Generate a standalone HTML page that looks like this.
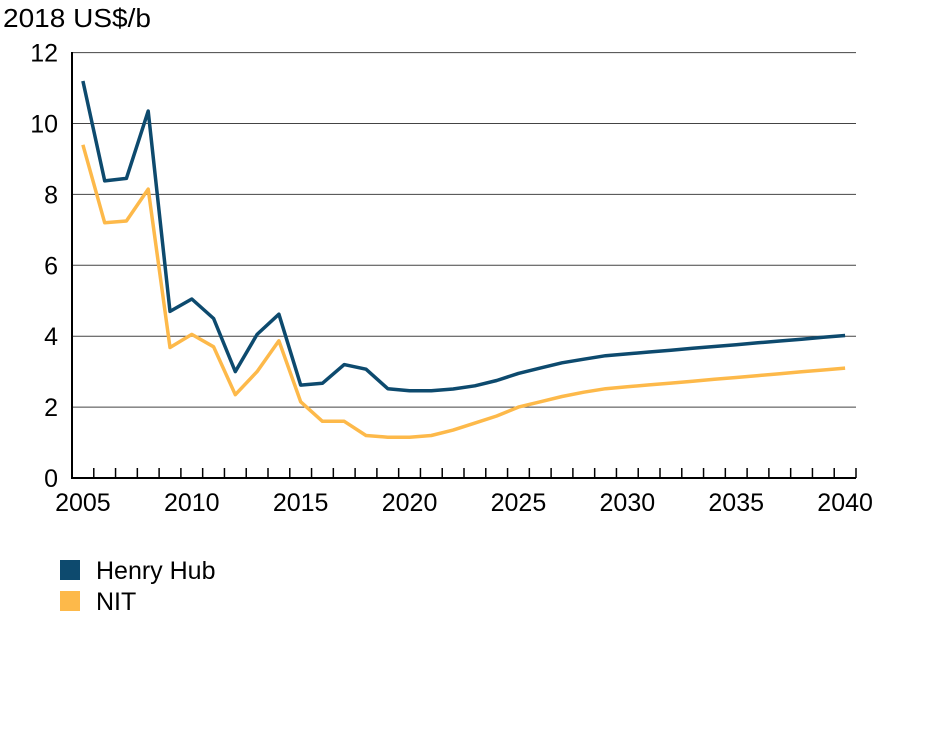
<!DOCTYPE html>
<html><head><meta charset="utf-8"><style>
body{margin:0;background:#fff;width:950px;height:730px;overflow:hidden}
text{font-family:"Liberation Sans",Arial,sans-serif;fill:#000}
</style></head><body>
<svg id="s" width="950" height="730" xmlns="http://www.w3.org/2000/svg"></svg>
<script>
const s=document.getElementById('s');
const X0=72,X1=856,Y0=478,U=35.45,n=36,W=(X1-X0)/n;
let h='';
h+='<text x="3" y="27" font-size="26" textLength="148" lengthAdjust="spacingAndGlyphs">2018 US$/b</text>';
for(let v=0;v<=12;v+=2){const y=Y0-v*U;
 if(v>0)h+=`<line x1="${X0}" x2="${X1}" y1="${y}" y2="${y}" stroke="#444" stroke-width="1"/>`;
 h+=`<text x="58" y="${y+9}" font-size="25" text-anchor="end">${v}</text>`;}
h+=`<line x1="${X0}" x2="${X0}" y1="52" y2="${Y0+1}" stroke="#000" stroke-width="2"/>`;
h+=`<line x1="${X0}" x2="${X1}" y1="${Y0}" y2="${Y0}" stroke="#000" stroke-width="2"/>`;
for(let i=1;i<=n;i++){const x=X0+i*W;h+=`<line x1="${x}" x2="${x}" y1="${Y0-10}" y2="${Y0}" stroke="#000" stroke-width="1.5"/>`;}
for(let yr=2005;yr<=2040;yr+=5){const x=X0+(yr-2005+0.5)*W;h+=`<text x="${x}" y="511" font-size="25" text-anchor="middle">${yr}</text>`;}
let hh=[11.2,8.38,8.45,10.35,4.7,5.05,4.5,3.0,4.05,4.62,2.62,2.67,3.2,3.07,2.52,2.46,2.46,2.51,2.6,2.75,2.95,3.1,3.25,3.35,3.45];
let nt=[9.4,7.2,7.25,8.15,3.68,4.05,3.7,2.35,3.0,3.87,2.15,1.6,1.6,1.2,1.15,1.15,1.2,1.35,1.55,1.75,2.0,2.15,2.3,2.42,2.52];
for(let k=1;k<=11;k++){hh.push(3.45+k*(4.02-3.45)/11);nt.push(2.52+k*(3.1-2.52)/11);}
function pl(d,c){return `<polyline fill="none" stroke="${c}" stroke-width="3.5" stroke-linejoin="round" points="${d.map((v,i)=>(X0+(i+0.5)*W).toFixed(1)+','+(Y0-v*U).toFixed(1)).join(' ')}"/>`;}
h+=pl(nt,'#fdb94a')+pl(hh,'#0d4a6e');
h+='<rect x="60" y="560" width="20" height="20" fill="#0d4a6e"/><text x="96" y="579" font-size="25">Henry Hub</text>';
h+='<rect x="60" y="591" width="20" height="20" fill="#fdb94a"/><text x="96" y="610" font-size="25">NIT</text>';
s.innerHTML=h;
</script>
</body></html>
